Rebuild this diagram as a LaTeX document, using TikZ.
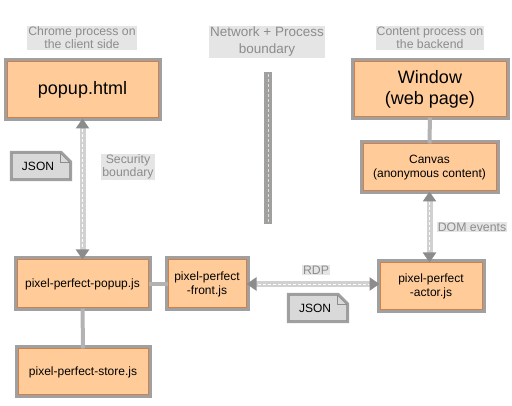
\documentclass[tikz,border=0pt]{standalone}
\usepackage{fontspec}
\setmainfont{Liberation Sans}
\usetikzlibrary{arrows.meta}
\definecolor{boxfill}{HTML}{FFCC99}
\definecolor{boxedge}{HTML}{D0804A}
\definecolor{backgray}{HTML}{A0A0A0}
\tikzset{
    box/.style={draw=boxedge, fill=boxfill, line width=1pt, inner sep=0pt, align=center,
        font=\fontsize{12}{14}\selectfont, preaction={draw=backgray, line width=7pt}},
    bigbox/.style={box, font=\fontsize{18}{21}\selectfont},
    tag/.style={text=black!45, fill=black!10, inner sep=1pt, align=center,
        font=\fontsize{12.3}{13}\selectfont},
    note/.style={inner sep=0pt, minimum width=57pt, minimum height=25pt,
        font=\fontsize{12}{14}\selectfont},
    link/.style={draw=backgray!80, line width=4pt},
    flow/.style={draw=black!18, line width=6pt,
        {Triangle[length=10pt,width=13pt,color=black!45]}-{Triangle[length=10pt,width=13pt,color=black!45]},
        postaction={draw=white, line width=0.8pt, dash pattern=on 3pt off 2pt,
            shorten <=11pt, shorten >=11pt, arrows=-}},
}
\begin{document}
\begin{tikzpicture}[x=1pt,y=-1pt]
    \useasboundingbox[fill=white] (0,0) rectangle (512,406);

    \node[tag] (chrome) at (82,38) {Chrome process on\\the client side};
    \node[tag, font=\fontsize{13.5}{17}\selectfont] (net) at (267,42) {Network + Process\\boundary};
    \node[tag] (content) at (430,38) {Content process on\\the backend};

    \node[bigbox, minimum width=151pt, minimum height=56pt] (html) at (82.5,90) {popup.html};
    \node[bigbox, minimum width=152pt, minimum height=55pt] (window) at (430,89.5) {Window\\(web page)};
    \node[box, minimum width=133pt, minimum height=47pt] (canvas) at (429.5,167.5) {Canvas\\(anonymous content)};
    \node[box, minimum width=131pt, minimum height=48pt] (popupjs) at (82.5,284) {pixel-perfect-popup.js};
    \node[box, minimum width=78pt, minimum height=48pt] (front) at (207,284) {pixel-perfect\\-front.js};
    \node[box, minimum width=102pt, minimum height=47pt] (actor) at (431,286.5) {pixel-perfect\\-actor.js};
    \node[box, minimum width=130pt, minimum height=46pt] (store) at (83,372) {pixel-perfect-store.js};

    % boundary between the two processes
    \draw[backgray, line width=8pt] (268,72) -- (268,224);
    \draw[boxfill!70!black!30, line width=0.8pt, dash pattern=on 3pt off 2pt] (268,74) -- (268,222);

    \draw[link] (window) -- (canvas);
    \draw[link] (popupjs) -- (front);
    \draw[link] (popupjs) -- (store);

    \draw[flow] (html) -- (popupjs);
    \draw[flow] (canvas.south) -- (canvas.south |- actor.north);
    \draw[flow] (front.east) -- (front.east -| actor.west);

    \node[tag] (security) at (128,167) {Security\\boundary};
    \node[tag] (dom) at (472,227) {DOM events};
    \node[tag] (rdp) at (316,270) {RDP};

    % JSON notes with a folded corner
    \node[note] (json1) at (41,166) {};
    \node[note] (json2) at (318,308) {};
    \foreach \n in {json1,json2} {
        \draw[draw=black!45, fill=black!15, line width=0.6pt, preaction={draw=backgray, line width=5pt}]
            (\n.south west) -- (\n.north west) -- ([xshift=-9pt]\n.north east)
            -- ([yshift=-9pt]\n.north east) -- (\n.south east) -- cycle;
        \draw[black!45, line width=0.6pt] ([xshift=-9pt]\n.north east) -- ([xshift=-9pt,yshift=-9pt]\n.north east)
            -- ([yshift=-9pt]\n.north east);
        \node[font=\fontsize{12}{14}\selectfont] (\n-text) at ([xshift=-3pt]\n.center) {JSON};
    }

\end{tikzpicture}
\end{document}
